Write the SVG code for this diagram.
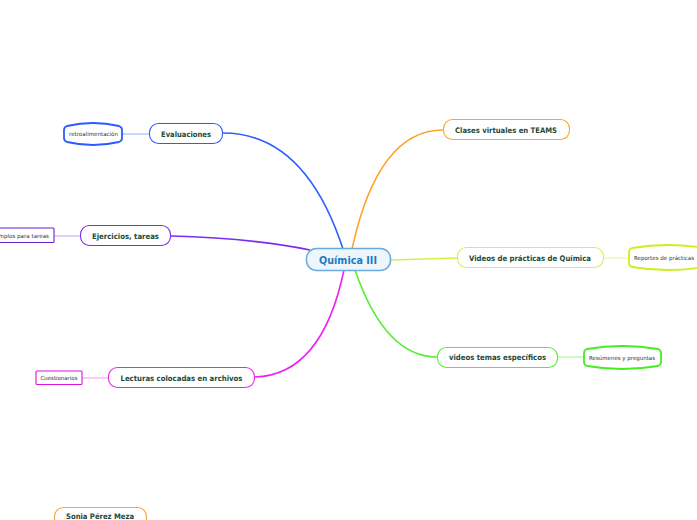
<svg xmlns="http://www.w3.org/2000/svg" width="697" height="520" viewBox="0 0 697 520">
<style>
.t{font-family:"DejaVu Sans",Verdana,sans-serif;font-weight:bold;font-size:7.6px;fill:#1d4a3b;text-anchor:middle}
.s{font-family:"DejaVu Sans",Verdana,sans-serif;font-size:5.6px;fill:#333;text-anchor:middle}
.n{fill:#fff;stroke-width:1.1}
.b{fill:#fff;stroke-width:1.8}
.c{fill:none}
</style>
<rect width="697" height="520" fill="#fff"/>
<g id="connectors" class="c">
<path d="M223,133 Q305,133 343,249" stroke="#3060ff" stroke-width="1.6" fill="none"/>
<path d="M171,236 Q250,238 310,250" stroke="#7a2cf0" stroke-width="1.6" fill="none"/>
<path d="M255,377 Q322,375 344,270" stroke="#ee22ee" stroke-width="1.6" fill="none"/>
<path d="M443,130 Q378,130 352,249" stroke="#ffa22a" stroke-width="1.6" fill="none"/>
<path d="M390,260 L457,258" stroke="#d6f04a" stroke-width="1.3" fill="none"/>
<path d="M355,270 Q385,357 437,357" stroke="#55ee33" stroke-width="1.6" fill="none"/>
<path d="M122,134 L149,134" stroke="#a8bcff" stroke-width="1.2" fill="none"/>
<path d="M54,236 L80,236" stroke="#c8acff" stroke-width="1.2" fill="none"/>
<path d="M82,378 L108,378" stroke="#f6a8f6" stroke-width="1.2" fill="none"/>
<path d="M603,258 L629,258" stroke="#e6f8a0" stroke-width="1.2" fill="none"/>
<path d="M558,357 L584,357" stroke="#b0f6a0" stroke-width="1.2" fill="none"/>
</g>
<g id="central">
<rect x="306.5" y="248.5" width="84" height="22" rx="10" fill="#eef6fc" stroke="#68acdf" stroke-width="1.5"/>
<text x="348" y="264" style="font-family:'DejaVu Sans',Verdana,sans-serif;font-weight:bold;font-size:9.6px;fill:#1b7bc2;text-anchor:middle" textLength="58" lengthAdjust="spacingAndGlyphs">Química III</text>
</g>
<g id="evaluaciones">
<rect class="n" x="149.5" y="123.5" width="73" height="20" rx="9" stroke="#2c5cff"/>
<text class="t" x="186" y="136.5" textLength="50" lengthAdjust="spacingAndGlyphs">Evaluaciones</text>
</g>
<g id="retroalimentacion">
<path class="b" stroke="#2c5cff" d="M67,126 Q93,120 119,126 Q122,127 122,130 L122,138 Q122,141 119,142 Q93,148 67,142 Q64,141 64,138 L64,130 Q64,127 67,126 Z"/>
<text class="s" x="93.5" y="136" textLength="49" lengthAdjust="spacingAndGlyphs">retroalimentación</text>
</g>
<g id="ejercicios">
<rect class="n" x="80.5" y="225.5" width="90" height="20" rx="9" stroke="#7a2cf0"/>
<text class="t" x="125.5" y="238.5" textLength="67" lengthAdjust="spacingAndGlyphs">Ejercicios, tareas</text>
</g>
<g id="ejemplos">
<rect class="n" x="-16" y="228" width="70" height="14.5" rx="1" stroke="#6a1fd0" stroke-width="1.8"/>
<text class="s" x="19.5" y="237.5" textLength="59" lengthAdjust="spacingAndGlyphs">Ejemplos para tareas</text>
</g>
<g id="lecturas">
<rect class="n" x="108.5" y="367.5" width="146" height="20" rx="9" stroke="#ee22ee"/>
<text class="t" x="181.5" y="380.5" textLength="122" lengthAdjust="spacingAndGlyphs">Lecturas colocadas en archivos</text>
</g>
<g id="cuestionarios">
<rect class="n" x="36" y="371" width="46" height="13.5" rx="1" stroke="#dd11dd" stroke-width="1.8"/>
<text class="s" x="59" y="380" textLength="37" lengthAdjust="spacingAndGlyphs">Cuestionarios</text>
</g>
<g id="clases">
<rect class="n" x="443.5" y="119.5" width="126" height="20" rx="9" stroke="#ffa22a"/>
<text class="t" x="506" y="132.5" textLength="102" lengthAdjust="spacingAndGlyphs">Clases virtuales en TEAMS</text>
</g>
<g id="videos-practicas">
<rect class="n" x="457.5" y="247.5" width="146" height="20" rx="9" stroke="#d6f04a"/>
<text class="t" x="530" y="260.5" textLength="122" lengthAdjust="spacingAndGlyphs">Videos de prácticas de Química</text>
</g>
<g id="reportes">
<path class="b" stroke="#ccee22" d="M632,248 Q668,242 704,248 Q707,249 707,252 L707,263 Q707,266 704,267 Q668,273 632,267 Q629,266 629,263 L629,252 Q629,249 632,248 Z"/>
<text class="s" x="664" y="260" textLength="60" lengthAdjust="spacingAndGlyphs">Reportes de prácticas</text>
</g>
<g id="videos-temas">
<rect class="n" x="437.5" y="347.5" width="120" height="20" rx="9" stroke="#55ee33"/>
<text class="t" x="497.5" y="360" textLength="97" lengthAdjust="spacingAndGlyphs">videos temas específicos</text>
</g>
<g id="resumenes">
<path class="b" stroke="#44ee22" d="M587,349 Q622,343 658,349 Q661,350 661,353 L661,362 Q661,365 658,366 Q622,372 587,366 Q584,365 584,362 L584,353 Q584,350 587,349 Z"/>
<text class="s" x="622" y="359.5" textLength="66" lengthAdjust="spacingAndGlyphs">Resúmenes y preguntas</text>
</g>
<g id="sonia">
<rect class="n" x="54.5" y="507.5" width="92" height="22" rx="9" stroke="#ffa22a"/>
<text class="t" x="100" y="519" textLength="68" lengthAdjust="spacingAndGlyphs">Sonia Pérez Meza</text>
</g>
</svg>
